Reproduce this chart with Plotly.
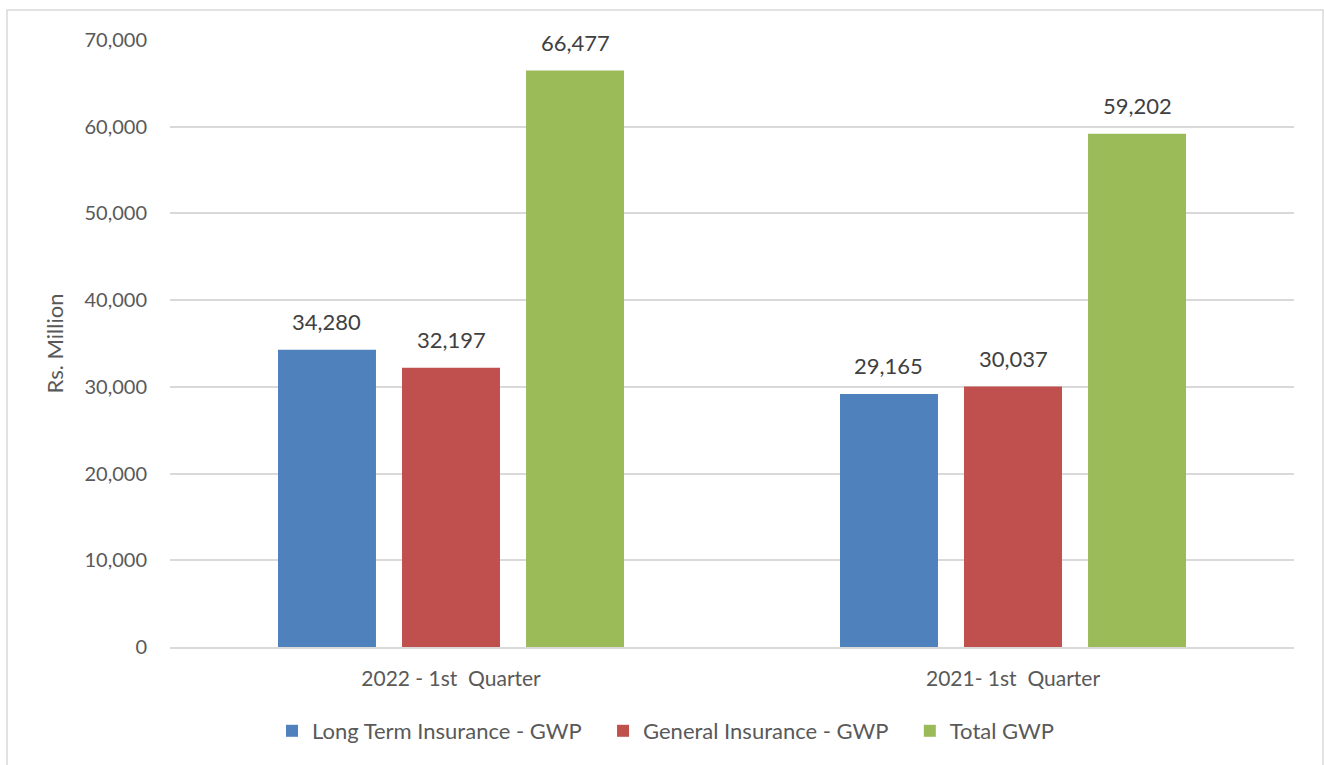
import plotly.graph_objects as go

categories = ["2022 - 1st\u00a0 Quarter", "2021- 1st\u00a0 Quarter"]
series_names = ["Long Term Insurance - GWP", "General Insurance - GWP", "Total GWP"]
long_term = [34280, 29165]
general = [32197, 30037]
total = [66477, 59202]
colors = ["#4f81bd", "#c0504d", "#9bbb59"]
y_ticks = [0, 10000, 20000, 30000, 40000, 50000, 60000, 70000]

FONT = "Lato, Open Sans, sans-serif"
BARGAP, GROUPGAP = 0.338, 0.21

W, H = 1324, 765
PL, PR, PT, PB = 170, 1294, 40, 647  # plot area in screen px
pw, ph = PR - PL, PB - PT

def px_x(p):
    return (p - PL) / pw

def px_y(p):
    return (PB - p) / ph

fig = go.Figure()
series = [long_term, general, total]
n = len(series)
slot = pw / len(categories) * (1 - BARGAP) / n
for i, (name, vals, col) in enumerate(zip(series_names, series, colors)):
    fig.add_trace(go.Bar(
        x=categories, y=vals, name=name + "\u00a0" * (3 if i < n - 1 else 0),
        marker_color=col, marker_line_width=0,
    ))
    for c, v in zip(categories, vals):
        fig.add_annotation(
            x=c, y=v, text=f"{v:,}", showarrow=False, yanchor="bottom",
            xshift=(i - (n - 1) / 2) * slot, yshift=13,
            font=dict(size=22, color="#404040", family=FONT),
        )

fig.add_shape(type="rect", xref="paper", yref="paper",
              x0=px_x(7), x1=px_x(1323), y0=px_y(800), y1=px_y(10),
              line=dict(color="#d9d9d9", width=1.5), fillcolor="rgba(0,0,0,0)", layer="below")

fig.update_layout(
    width=W, height=H,
    margin=dict(l=PL, r=W - PR, t=PT, b=H - PB),
    paper_bgcolor="white", plot_bgcolor="white",
    barmode="group", bargap=BARGAP, bargroupgap=GROUPGAP,
    font=dict(family=FONT, color="#595959", size=20),
    showlegend=True,
    legend=dict(orientation="h", x=px_x(666), xanchor="center", y=px_y(731), yanchor="middle",
                font=dict(size=22, color="#595959", family=FONT), itemwidth=30,
                traceorder="normal"),
    xaxis=dict(showline=True, linecolor="#d9d9d9", linewidth=1.5, ticks="",
               ticklabelstandoff=12,
               tickfont=dict(size=21, color="#595959"), showgrid=False),
    yaxis=dict(range=[0, 70000], tickvals=y_ticks, tickformat=",d",
               showgrid=True, gridcolor="#d9d9d9", gridwidth=1.5, zeroline=False,
               showline=False, ticks="", ticklabelstandoff=22,
               tickfont=dict(size=20, color="#595959"),
               title=dict(text="Rs. Million", font=dict(size=22, color="#595959"), standoff=14)),
)

fig.write_html("out.html", config={"displayModeBar": False},
               post_script="document.body.style.margin='0px';document.body.style.overflow='hidden';")
